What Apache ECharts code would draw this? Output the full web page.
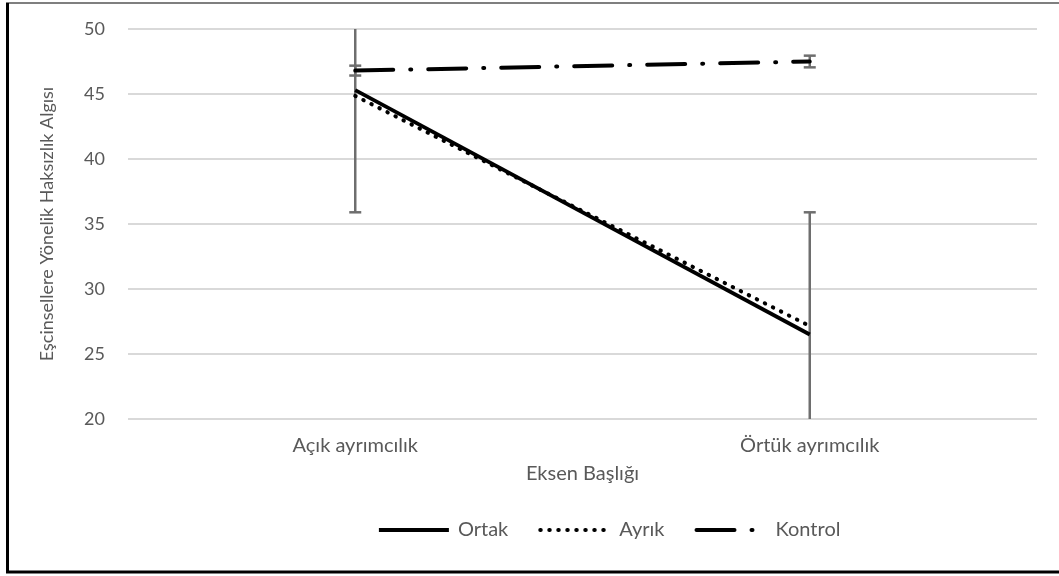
<!DOCTYPE html>
<html>
<head>
<meta charset="utf-8">
<script src="https://cdn.jsdelivr.net/npm/echarts@6/dist/echarts.min.js"></script>
<style>
  html, body { margin: 0; padding: 0; background: #fff; }
  #chart { width: 1059px; height: 576px; }
</style>
</head>
<body>
<div id="chart"></div>
<script>
const categories = ['Açık ayrımcılık', 'Örtük ayrımcılık']
const ortak = [45.3, 26.5]
const ayrik = [44.85, 27.15]
const kontrol = [46.8, 47.5]
const ortakErr = [9.4, 9.4]
const kontrolErr = [0.38, 0.45]
const yTicks = { min: 20, max: 50, interval: 5 }

const FONT = 'Lato'
const TEXT = '#595959'

// error bar: vertical line + caps, clamped to the axis range
function errorBarItem(params, api) {
  const x = api.value(0)
  const mid = api.value(1)
  const err = api.value(2)
  const lo = Math.max(mid - err, yTicks.min)
  const hi = Math.min(mid + err, yTicks.max)
  const pLo = api.coord([x, lo])
  const pHi = api.coord([x, hi])
  const half = 6
  const style = { stroke: '#6e6e6e', lineWidth: 2.5 }
  const children = [
    { type: 'line', shape: { x1: pLo[0], y1: pLo[1], x2: pHi[0], y2: pHi[1] }, style }
  ]
  if (mid - err >= yTicks.min) {
    children.push({ type: 'line', shape: { x1: pLo[0] - half, y1: pLo[1], x2: pLo[0] + half, y2: pLo[1] }, style })
  }
  if (mid + err <= yTicks.max) {
    children.push({ type: 'line', shape: { x1: pHi[0] - half, y1: pHi[1], x2: pHi[0] + half, y2: pHi[1] }, style })
  }
  return { type: 'group', children }
}

const errData = (vals, errs) => vals.map((v, i) => [i, v, errs[i]])

const noSymbol = { color: 'rgba(0,0,0,0)', borderWidth: 0 }

const chart = echarts.init(document.getElementById('chart'))

chart.setOption({
  animation: false,
  textStyle: { fontFamily: FONT },
  grid: { left: 128, right: 22, top: 29, bottom: 157 },
  legend: {
    bottom: 31,
    left: 372,
    itemWidth: 70,
    itemHeight: 12,
    itemGap: 30,
    data: ['Ortak', 'Ayrık', 'Kontrol'],
    lineStyle: { width: 'inherit' },
    textStyle: { fontFamily: FONT, fontSize: 20, color: TEXT, letterSpacing: 2.5, padding: [0, 0, 0, 4] }
  },
  xAxis: {
    type: 'category',
    data: categories,
    boundaryGap: true,
    axisLine: { show: false },
    axisTick: { show: false },
    axisLabel: { fontFamily: FONT, fontSize: 20, color: TEXT, margin: 17, letterSpacing: 1.4 },
    name: 'Eksen Başlığı',
    nameLocation: 'middle',
    nameGap: 45,
    nameTextStyle: { fontFamily: FONT, fontSize: 20, color: TEXT, letterSpacing: 2.2 }
  },
  yAxis: {
    type: 'value',
    min: yTicks.min,
    max: yTicks.max,
    interval: yTicks.interval,
    axisLine: { show: false },
    axisTick: { show: false },
    splitLine: { lineStyle: { color: '#d9d9d9', width: 2 } },
    axisLabel: { fontFamily: FONT, fontSize: 18, color: TEXT, margin: 23, letterSpacing: 0.8 },
    name: 'Eşcinsellere Yönelik Haksızlık Algısı',
    nameLocation: 'middle',
    nameGap: 72,
    nameTextStyle: { fontFamily: FONT, fontSize: 18, color: TEXT, letterSpacing: 0.45 }
  },
  series: [
    {
      name: 'Ortak error',
      type: 'custom',
      z: 1,
      renderItem: errorBarItem,
      data: errData(ortak, ortakErr),
      silent: true
    },
    {
      name: 'Kontrol error',
      type: 'custom',
      z: 1,
      renderItem: errorBarItem,
      data: errData(kontrol, kontrolErr),
      silent: true
    },
    {
      name: 'Ortak',
      type: 'line',
      z: 3,
      data: ortak,
      symbol: 'none',
      lineStyle: { color: '#000', width: 3.8 },
      itemStyle: noSymbol
    },
    {
      name: 'Ayrık',
      type: 'line',
      z: 3,
      data: ayrik,
      symbol: 'none',
      lineStyle: { color: '#000', width: 4, type: [0.5, 8.5], cap: 'round' },
      itemStyle: noSymbol
    },
    {
      name: 'Kontrol',
      type: 'line',
      z: 3,
      data: kontrol,
      symbol: 'none',
      lineStyle: { color: '#000', width: 4, type: [38, 17, 1, 17], cap: 'round' },
      itemStyle: noSymbol
    }
  ],
  graphic: [
    { type: 'line', shape: { x1: 6, y1: 3, x2: 1059, y2: 3 }, style: { stroke: '#555', lineWidth: 1.5 }, silent: true },
    { type: 'line', shape: { x1: 7.5, y1: 3, x2: 7.5, y2: 573 }, style: { stroke: '#000', lineWidth: 3 }, silent: true },
    { type: 'line', shape: { x1: 6, y1: 572, x2: 1059, y2: 572 }, style: { stroke: '#000', lineWidth: 3 }, silent: true }
  ]
})
</script>
</body>
</html>
